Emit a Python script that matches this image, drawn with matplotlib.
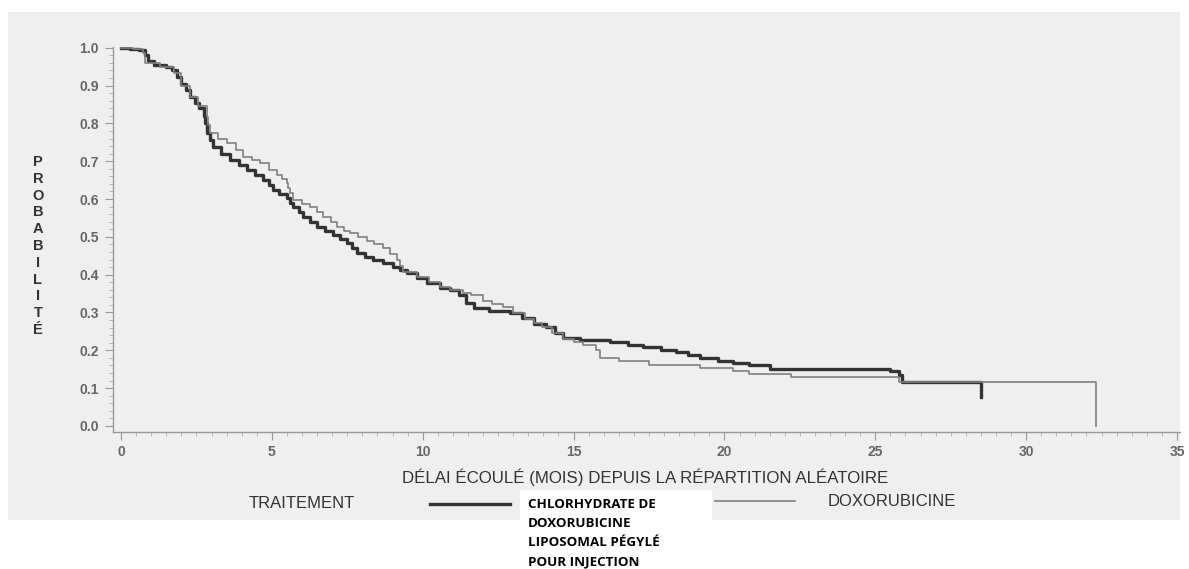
import matplotlib.pyplot as plt
from matplotlib.patches import Rectangle
from matplotlib.lines import Line2D
from matplotlib.ticker import MultipleLocator, FormatStrFormatter

# Kaplan-Meier curves (months, survival probability)
peg_months = [0, 0.3, 0.6, 0.8, 0.9, 1.1, 1.5, 1.7, 1.85, 2.0, 2.15, 2.3, 2.45, 2.6,
              2.75, 2.8, 2.84, 2.95, 3.06, 3.3, 3.61, 3.9, 4.17, 4.45, 4.72, 4.9,
              5.05, 5.25, 5.49, 5.6, 5.71, 5.9, 6.04, 6.25, 6.49, 6.75, 7.04, 7.25,
              7.48, 7.65, 7.81, 8.1, 8.36, 8.7, 9.03, 9.25, 9.47, 9.8, 10.13, 10.57,
              10.9, 11.2, 11.45, 11.7, 12.2, 12.9, 13.3, 13.7, 14.1, 14.4, 14.65,
              15.2, 16.2, 16.8, 17.3, 17.9, 18.4, 18.8, 19.2, 19.8, 20.3, 20.8, 21.5,
              25.5, 25.8, 25.9, 28.5]
peg_surv = [1.0, 0.998, 0.994, 0.98, 0.965, 0.954, 0.95, 0.94, 0.923, 0.905, 0.888,
            0.87, 0.855, 0.84, 0.82, 0.8, 0.775, 0.755, 0.738, 0.72, 0.703, 0.69,
            0.677, 0.663, 0.65, 0.637, 0.624, 0.612, 0.602, 0.59, 0.58, 0.565, 0.553,
            0.54, 0.527, 0.515, 0.505, 0.494, 0.483, 0.47, 0.456, 0.447, 0.439, 0.43,
            0.421, 0.412, 0.404, 0.39, 0.377, 0.364, 0.359, 0.345, 0.325, 0.311,
            0.305, 0.298, 0.285, 0.27, 0.262, 0.245, 0.232, 0.228, 0.223, 0.215,
            0.208, 0.201, 0.195, 0.188, 0.18, 0.173, 0.167, 0.161, 0.151, 0.145,
            0.136, 0.117, 0.077]

dox_months = [0, 0.4, 0.74, 0.8, 1.3, 1.75, 2.0, 2.28, 2.55, 2.84, 2.9, 2.95, 3.2,
              3.5, 3.8, 4.05, 4.35, 4.61, 4.9, 5.16, 5.35, 5.49, 5.55, 5.6, 5.71, 6.0,
              6.26, 6.5, 6.71, 6.95, 7.15, 7.4, 7.59, 7.85, 8.14, 8.4, 8.69, 8.9,
              9.14, 9.25, 9.36, 9.8, 10.2, 10.57, 10.9, 11.33, 11.6, 12.0, 12.3,
              12.66, 13.0, 13.4, 13.7, 13.97, 14.3, 14.64, 15.0, 15.3, 15.76, 15.86,
              16.5, 17.5, 19.2, 20.3, 20.8, 22.2, 25.8, 32.3]
dox_surv = [1.0, 0.997, 0.985, 0.96, 0.95, 0.932, 0.9, 0.87, 0.845, 0.817, 0.795,
            0.774, 0.76, 0.747, 0.73, 0.712, 0.703, 0.694, 0.678, 0.663, 0.652,
            0.642, 0.628, 0.615, 0.597, 0.588, 0.58, 0.566, 0.553, 0.54, 0.527,
            0.516, 0.509, 0.5, 0.49, 0.48, 0.47, 0.455, 0.439, 0.424, 0.408, 0.395,
            0.38, 0.368, 0.359, 0.351, 0.345, 0.33, 0.322, 0.315, 0.298, 0.282,
            0.272, 0.262, 0.245, 0.23, 0.222, 0.214, 0.201, 0.18, 0.172, 0.161,
            0.153, 0.146, 0.137, 0.129, 0.117, 0.0]

x_ticks = [0, 5, 10, 15, 20, 25, 30, 35]
y_ticks = [0.0, 0.1, 0.2, 0.3, 0.4, 0.5, 0.6, 0.7, 0.8, 0.9, 1.0]

W, H = 1189, 569
fx = lambda px: px / W
fy = lambda py: 1 - py / H

fig = plt.figure(figsize=(W / 100, H / 100), dpi=100, facecolor='white')

# scanned grey background, and the white box behind the long legend label
fig.patches.append(Rectangle((fx(8), fy(520)), fx(1180) - fx(8), fy(12) - fy(520),
                             transform=fig.transFigure, facecolor='#efefef',
                             edgecolor='none', zorder=-2))
fig.patches.append(Rectangle((fx(520), fy(569)), fx(712) - fx(520), fy(490) - fy(569),
                             transform=fig.transFigure, facecolor='white',
                             edgecolor='none', zorder=-1))

ax = fig.add_axes([fx(113), fy(432), fx(1180) - fx(113), fy(47) - fy(432)])
ax.set_facecolor('none')

dark = '#333333'
light = '#808080'
ax.step(peg_months, peg_surv, where='post', color=dark, lw=2.4)
ax.step(dox_months, dox_surv, where='post', color=light, lw=1.2)

ax.set_xlim(-0.265, 35.1)
ax.set_ylim(-0.016, 1.002)
ax.set_xticks(x_ticks)
ax.set_yticks(y_ticks)
ax.xaxis.set_minor_locator(MultipleLocator(0.5))
ax.yaxis.set_minor_locator(MultipleLocator(0.02))
ax.yaxis.set_major_formatter(FormatStrFormatter('%.1f'))

for s in ['top', 'right']:
    ax.spines[s].set_visible(False)
for s in ['left', 'bottom']:
    ax.spines[s].set_color('#999999')
    ax.spines[s].set_linewidth(1.0)

ax.tick_params(axis='both', which='major', colors='#999999', labelcolor='#666666',
               labelsize=10, length=6, direction='out')
ax.tick_params(axis='both', which='minor', colors='#aaaaaa', length=3, direction='out')
ax.tick_params(axis='x', pad=3)
ax.tick_params(axis='y', pad=4)
for lab in ax.get_xticklabels() + ax.get_yticklabels():
    lab.set_fontweight('bold')
    lab.set_family('Liberation Sans')

# vertical stacked y label
ylab = 'PROBABILITÉ'
for i, ch in enumerate(ylab):
    fig.text(fx(38), fy(162 + i * 16.8), ch, ha='center', va='center',
             fontsize=10.5, fontweight='bold', color='#333333', family='Liberation Sans')

fig.text(fx(645), fy(477), 'DÉLAI ÉCOULÉ (MOIS) DEPUIS LA RÉPARTITION ALÉATOIRE',
         ha='center', va='center', fontsize=12.2, color='#333333', family='Liberation Sans')

# legend row
fig.text(fx(302), fy(504), 'TRAITEMENT', ha='center', va='center', fontsize=12,
         color='#333333', family='Liberation Sans')
fig.add_artist(Line2D([fx(430), fx(510)], [fy(504), fy(504)], color=dark, lw=2.4,
                      transform=fig.transFigure))
peg_label = ['CHLORHYDRATE DE', 'DOXORUBICINE', 'LIPOSOMAL PÉGYLÉ', 'POUR INJECTION']
for i, line in enumerate(peg_label):
    fig.text(fx(528), fy(504 + i * 19.3), line, ha='left', va='center', fontsize=9.6,
             fontweight='bold', color='black', family='Open Sans')
fig.add_artist(Line2D([fx(715), fx(795)], [fy(501), fy(501)], color=light, lw=1.2,
                      transform=fig.transFigure))
fig.text(fx(828), fy(501), 'DOXORUBICINE', ha='left', va='center', fontsize=12,
         color='#333333', family='Liberation Sans')

fig.savefig('out.png', dpi=100, facecolor=fig.get_facecolor())
